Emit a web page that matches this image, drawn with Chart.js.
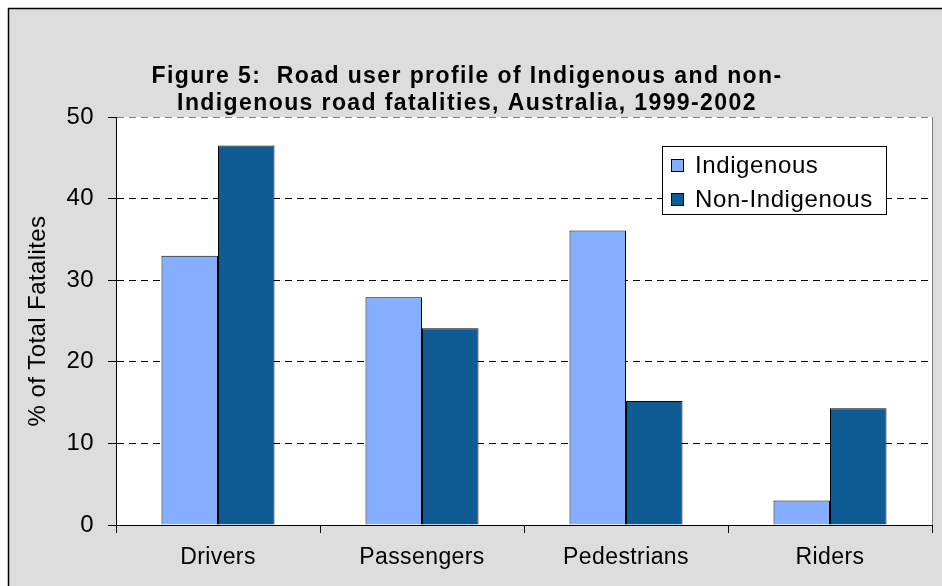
<!DOCTYPE html>
<html>
<head>
  <meta charset="UTF-8">
  <title>Road user profile</title>
  <script src="https://cdn.jsdelivr.net/npm/chart.js"></script>
</head>
<body style="margin:0">
  <div style="width:942px;height:586px;position:relative">
    <canvas id="chart"></canvas>
  </div>
  <script>
    const titleLines = ['Figure 5:  Road user profile of Indigenous and non-',
                        'Indigenous road fatalities, Australia, 1999-2002'];
    const categories = ['Drivers', 'Passengers', 'Pedestrians', 'Riders'];
    const indigenous = [33, 27.9, 36.1, 3];
    const nonIndigenous = [46.5, 24.1, 15.2, 14.3];
    const yTicks = [0, 10, 20, 30, 40, 50];
    const FONT = '"Liberation Sans", Arial, sans-serif';

    // background, frame, title and the boxed legend
    const decor = {
      id: 'decor',
      beforeDraw(chart) {
        const { ctx, chartArea: a, width, height } = chart;
        ctx.save();
        ctx.fillStyle = '#fff';
        ctx.fillRect(0, 0, width, height);
        ctx.fillStyle = '#dddddd';
        ctx.fillRect(8, 8, width, height);
        ctx.strokeStyle = '#000';
        ctx.lineWidth = 1.5;
        ctx.beginPath();
        ctx.moveTo(8.5, height);
        ctx.lineTo(8.5, 8.5);
        ctx.lineTo(width, 8.5);
        ctx.stroke();
        ctx.fillStyle = '#fff';
        ctx.fillRect(a.left, a.top, a.right - a.left, a.bottom - a.top);

        ctx.fillStyle = '#000';
        ctx.font = 'bold 23px ' + FONT;
        ctx.letterSpacing = '1.4px';
        ctx.textAlign = 'center';
        ctx.textBaseline = 'middle';
        ctx.fillText(titleLines[0], 467, 77);
        ctx.fillText(titleLines[1], 467, 104);
        ctx.restore();
        ctx.letterSpacing = '0.4px';
      },
      afterDatasetsDraw(chart) {
        const ctx = chart.ctx;
        ctx.save();
        ctx.letterSpacing = '0.6px';
        ctx.fillStyle = '#fff';
        ctx.fillRect(662, 146, 224, 68);
        ctx.strokeStyle = '#000';
        ctx.lineWidth = 1;
        ctx.strokeRect(662.5, 146.5, 224, 68);
        ctx.font = '24px ' + FONT;
        ctx.textBaseline = 'middle';
        chart.data.datasets.forEach((ds, i) => {
          const cy = 165 + i * 34;
          ctx.fillStyle = ds.backgroundColor;
          ctx.fillRect(671, cy - 6, 12, 12);
          ctx.strokeRect(671.5, cy - 5.5, 12, 12);
          ctx.fillStyle = '#000';
          ctx.fillText(ds.label, 695, cy + 1);
        });
        ctx.restore();
      }
    };

    new Chart(document.getElementById('chart'), {
      type: 'bar',
      data: {
        labels: categories,
        datasets: [
          { label: 'Indigenous', data: indigenous, backgroundColor: '#86aeff',
            borderColor: '#000', borderWidth: 1 },
          { label: 'Non-Indigenous', data: nonIndigenous, backgroundColor: '#0f5b94',
            borderColor: '#000', borderWidth: 1 }
        ]
      },
      options: {
        responsive: true,
        maintainAspectRatio: false,
        animation: false,
        layout: { padding: { top: 117, right: 10, left: 0, bottom: 0 } },
        datasets: { bar: { categoryPercentage: 0.554, barPercentage: 1 } },
        plugins: {
          legend: { display: false },
          title: { display: false },
          tooltip: { enabled: false }
        },
        scales: {
          x: {
            afterFit(s) { s.height = 61; },
            grid: {
              offset: true,
              color: c => c.type === 'tick' ? 'rgba(0,0,0,0)' : '#808080',
              tickColor: '#000',
              tickLength: 8
            },
            border: { color: '#000', width: 1 },
            ticks: { color: '#000', font: { family: FONT, size: 23 }, padding: 11 }
          },
          y: {
            min: 0,
            max: 50,
            afterFit(s) { s.width = 116; },
            afterBuildTicks(s) { s.ticks = yTicks.map(v => ({ value: v })); },
            grid: {
              color: c => c.tick.value === 0 ? 'rgba(0,0,0,0)' : (c.tick.value === 50 ? '#808080' : '#000'),
              tickColor: '#000',
              tickLength: 8,
              tickBorderDash: [8, 0]
            },
            border: { color: '#000', width: 1, dash: [7, 5] },
            ticks: { color: '#000', font: { family: FONT, size: 24 }, padding: 14 },
            title: {
              display: true,
              text: '% of Total Fatalites',
              color: '#000',
              font: { family: FONT, size: 24 },
              padding: { top: 24, bottom: 0 }
            }
          }
        }
      },
      plugins: [decor]
    });
  </script>
</body>
</html>
